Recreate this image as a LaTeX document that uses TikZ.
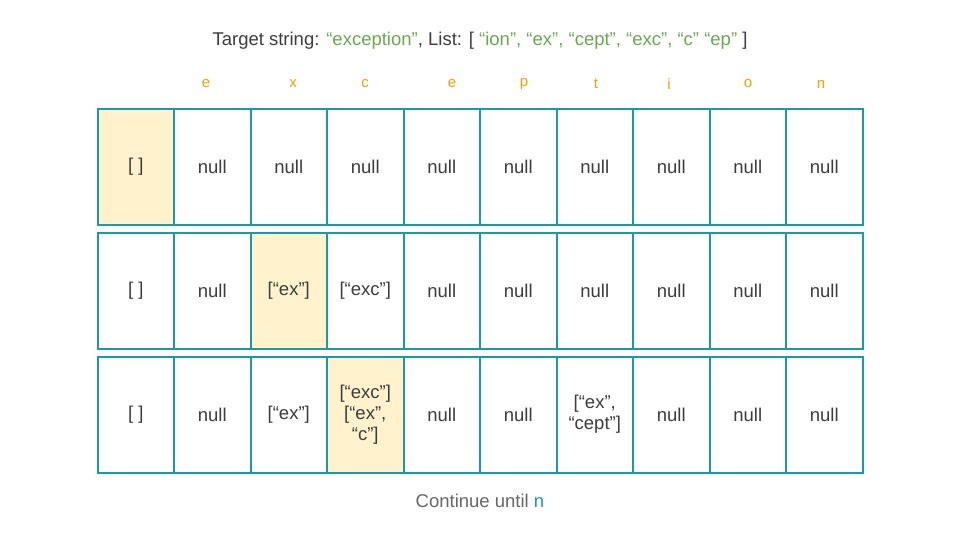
\documentclass[tikz,border=0pt]{standalone}
\usepackage{fontspec}
\setmainfont{Liberation Sans}
\usetikzlibrary{positioning}

\definecolor{cellline}{HTML}{1A9AA6}
\definecolor{hit}{HTML}{FFF2CC}
\definecolor{txt}{HTML}{3C3C3C}
\definecolor{soft}{HTML}{666666}
\definecolor{qgreen}{HTML}{6AA84F}
\definecolor{letter}{HTML}{F5A000}

\begin{document}
\begin{tikzpicture}[x=1pt, y=-1pt, node distance={76.5pt}, on grid,
	cell/.style = {draw=cellline, line width=2pt, minimum width=76.5pt, minimum height=116pt,
		inner sep=0pt, align=center, text=txt, font=\fontsize{18.5}{21}\selectfont},
	ch/.style = {text=letter, font=\fontsize{15}{17}\selectfont},
	caption/.style = {font=\fontsize{18.5}{21}\selectfont}]
	\useasboundingbox (0,0) rectangle (960,540);
	\node[caption, text=txt] (title) at (480,41) {Target string: \textcolor{qgreen}{“exception”}, List: [ \textcolor{qgreen}{“ion”, “ex”, “cept”, “exc”, “c” “ep”} ]};
	% letters of the target
	\foreach \l/\x [count=\i] in {e/206, x/293, c/365, e/452, p/524, t/596, i/669, o/748, n/821}
		\node[ch] (l\i) at (\x,84) {\l};
	% first row
	\foreach \t/\f [count=\i] in {{[ ]}/hit, null/white, null/white, null/white, null/white,
		null/white, null/white, null/white, null/white, null/white}
		\node[cell, fill=\f] (a\i) at ({97.5+76.5*(\i-0.5)},167) {\t};
	% second row
	\foreach \t/\f [count=\i] in {{[ ]}/white, null/white, {[“ex”]}/hit, {[“exc”]}/white, null/white,
		null/white, null/white, null/white, null/white, null/white}
		\node[cell, fill=\f] (b\i) at ({97.5+76.5*(\i-0.5)},291) {\t};
	% third row
	\foreach \t/\f [count=\i] in {{[ ]}/white, null/white, {[“ex”]}/white, {[“exc”]\\{}[“ex”,\\“c”]}/hit, null/white,
		null/white, {[“ex”,\\“cept”]}/white, null/white, null/white, null/white}
		\node[cell, fill=\f] (c\i) at ({97.5+76.5*(\i-0.5)},414.5) {\t};
	\node[caption, text=soft] (more) at (480,501) {Continue until \textcolor{cellline}{n}};
\end{tikzpicture}
\end{document}
